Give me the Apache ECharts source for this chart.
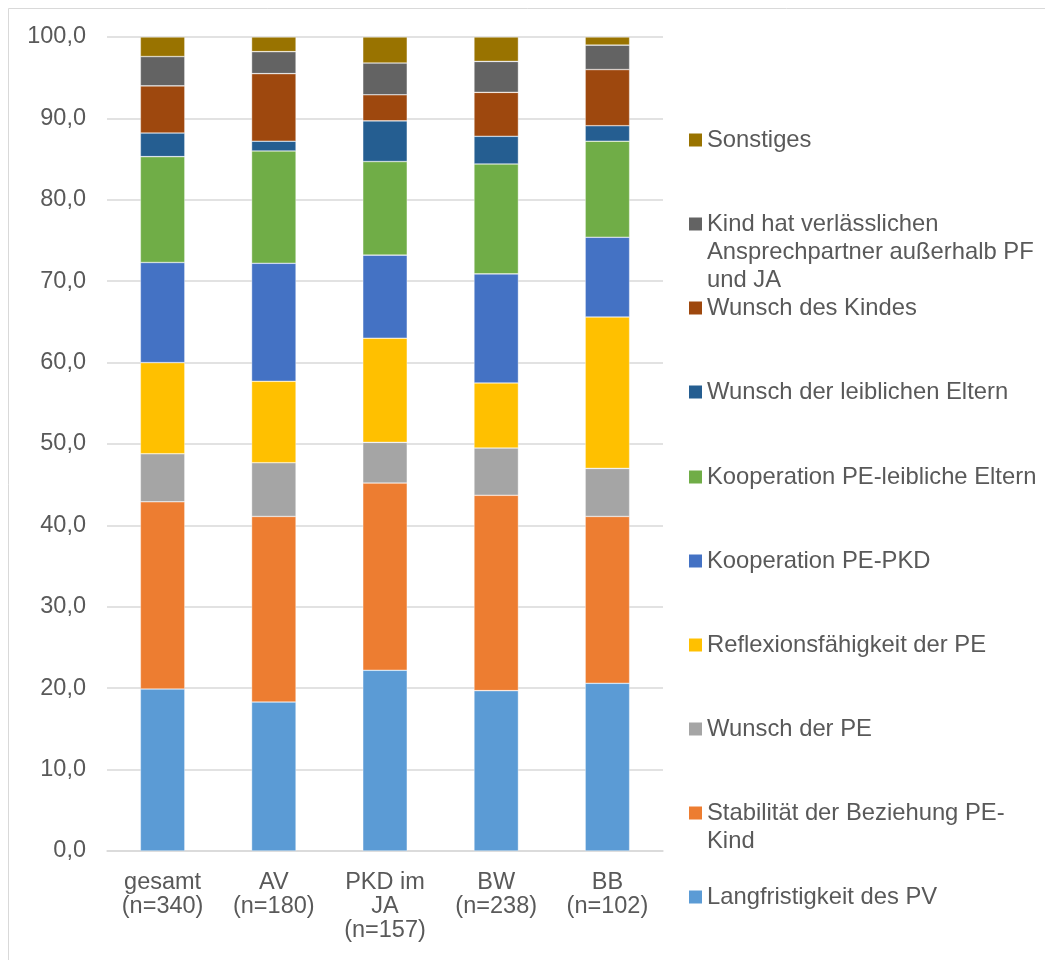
<!DOCTYPE html>
<html>
<head>
<meta charset="utf-8">
<script src="https://cdn.jsdelivr.net/npm/echarts@6/dist/echarts.min.js"></script>
<style>
  html,body{margin:0;padding:0;background:#fff;}
  #bar{width:1045px;height:960px;}
</style>
</head>
<body>
<div id="bar"></div>
<script>
// categories (x axis)
var categories = ['gesamt\n(n=340)', 'AV\n(n=180)', 'PKD im\nJA\n(n=157)', 'BW\n(n=238)', 'BB\n(n=102)'];

// series, bottom to top, values in %
var langfristigkeit = [19.9, 18.3, 22.2, 19.7, 20.6];
var stabilitaet     = [23.0, 22.8, 23.0, 24.0, 20.5];
var wunschPE        = [5.9, 6.6, 5.0, 5.8, 5.9];
var reflexion       = [11.2, 10.0, 12.8, 8.0, 18.6];
var koopPKD         = [12.3, 14.5, 10.2, 13.4, 9.8];
var koopEltern      = [13.0, 13.8, 11.5, 13.5, 11.8];
var wunschEltern    = [2.9, 1.2, 5.0, 3.4, 1.9];
var wunschKind      = [5.8, 8.3, 3.2, 5.4, 6.9];
var ansprechpartner = [3.6, 2.7, 3.9, 3.8, 3.0];
var sonstiges       = [2.4, 1.8, 3.2, 3.0, 1.0];

var seriesNames = [
  'Langfristigkeit des PV',
  'Stabilität der Beziehung PE-Kind',
  'Wunsch der PE',
  'Reflexionsfähigkeit der PE',
  'Kooperation PE-PKD',
  'Kooperation PE-leibliche Eltern',
  'Wunsch der leiblichen Eltern',
  'Wunsch des Kindes',
  'Kind hat verlässlichen Ansprechpartner außerhalb PF und JA',
  'Sonstiges'
];
// legend text as it wraps in the picture
var legendLabels = [
  'Langfristigkeit des PV',
  'Stabilität der Beziehung PE-\nKind',
  'Wunsch der PE',
  'Reflexionsfähigkeit der PE',
  'Kooperation PE-PKD',
  'Kooperation PE-leibliche Eltern',
  'Wunsch der leiblichen Eltern',
  'Wunsch des Kindes',
  'Kind hat verlässlichen\nAnsprechpartner außerhalb PF\nund JA',
  'Sonstiges'
];
var seriesData = [langfristigkeit, stabilitaet, wunschPE, reflexion, koopPKD,
                  koopEltern, wunschEltern, wunschKind, ansprechpartner, sonstiges];
var colors = ['#5B9BD5', '#ED7D31', '#A5A5A5', '#FFC000', '#4472C4',
              '#70AD47', '#255E91', '#9E480E', '#636363', '#997300'];

var font = '"Liberation Sans", Arial, sans-serif';
var txtColor = '#595959';
var lh = 28;

var myChart = echarts.init(document.getElementById('bar'));

var series = seriesData.map(function(d, i){
  return {
    name: seriesNames[i],
    type: 'bar',
    stack: 'total',
    barWidth: '40%',
    data: d,
    itemStyle: {
      color: colors[i],
      borderColor: 'rgba(255,255,255,0.6)',
      borderWidth: 0.6
    }
  };
});

// one legend per entry, first line of each entry 84px below the previous one.
// blank lines are put in front so the marker sits on the first text line
var legends = seriesNames.map(function(name, i){
  var lines = legendLabels[i].split('\n');
  var n = lines.length;
  var pad = [];
  for (var k = 0; k < n - 1; k++) pad.push(' ');
  var label = pad.concat(lines).join('\n');
  var firstY = 897 - i * 84.1;
  var outer = (2 * n - 1) * lh;
  return {
    data: [name],
    orient: 'vertical',
    left: 689,
    top: Math.round(firstY - outer / 2),
    padding: 0,
    itemWidth: 13,
    itemHeight: 13,
    icon: 'rect',
    selectedMode: false,
    itemStyle: {borderWidth: 0},
    formatter: function(){ return label; },
    textStyle: {
      color: txtColor,
      fontFamily: font,
      fontSize: 23.8,
      lineHeight: lh
    }
  };
});

myChart.setOption({
  animation: false,
  backgroundColor: '#fff',
  graphic: [{
    type: 'rect',
    shape: {x: 8.5, y: 8.5, width: 2000, height: 2000},
    style: {fill: 'none', stroke: '#D9D9D9', lineWidth: 1},
    silent: true
  }],
  grid: {left: 107, right: 382, top: 37, bottom: 109},
  legend: legends,
  xAxis: {
    type: 'category',
    data: categories,
    axisTick: {show: false},
    axisLine: {show: true, lineStyle: {color: '#D9D9D9', width: 1.5}},
    axisLabel: {
      color: txtColor,
      fontFamily: font,
      fontSize: 23.5,
      lineHeight: 24,
      margin: 20,
      interval: 0
    }
  },
  yAxis: {
    type: 'value',
    min: 0,
    max: 100,
    interval: 10,
    axisLine: {show: false},
    axisTick: {show: false},
    splitLine: {lineStyle: {color: '#D9D9D9', width: 1.5}},
    axisLabel: {
      color: txtColor,
      fontFamily: font,
      fontSize: 23.5,
      margin: 21,
      formatter: function(v){ return v.toFixed(1).replace('.', ','); }
    }
  },
  series: series
});
</script>
</body>
</html>
